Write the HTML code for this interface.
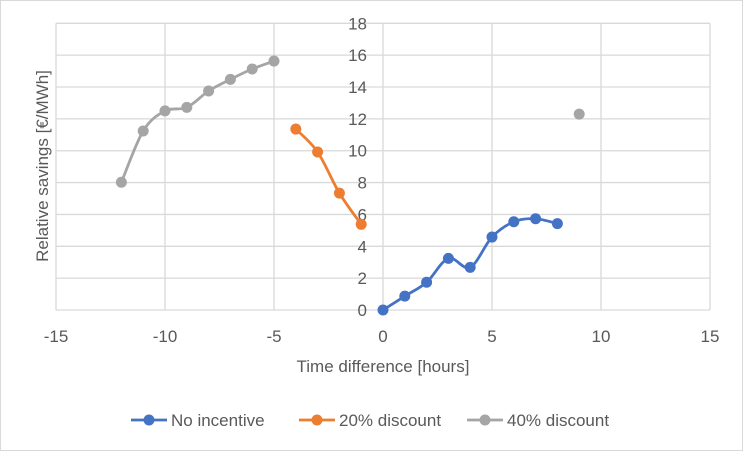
<!DOCTYPE html>
<html><head><meta charset="utf-8"><style>
body{margin:0;background:#fff;font-family:"Liberation Sans",sans-serif;}
svg{display:block}
</style></head><body>
<svg id="chart" width="743" height="451">
<rect x="0.5" y="0.5" width="742" height="450" fill="#fff" stroke="#d9d9d9"/>
<g id="grid"></g><g id="axes"></g><g id="series"></g>
<text x="383" y="372" text-anchor="middle" font-size="17" fill="#595959">Time difference [hours]</text>
<text transform="translate(48,166) rotate(-90)" text-anchor="middle" font-size="17" fill="#595959">Relative savings [€/MWh]</text>
<g id="legend"></g>
</svg>
<script>
const xTicks=[-15,-10,-5,0,5,10,15];
const yTicks=[0,2,4,6,8,10,12,14,16,18];
const seriesNames=["No incentive","20% discount","40% discount"];
const seriesColors=["#4472C4","#ED7D31","#A5A5A5"];
const blueX=[0,1,2,3,4,5,6,7,8];
const blueY=[0,0.87,1.74,3.24,2.68,4.58,5.54,5.73,5.42];
const orangeX=[-4,-3,-2,-1];
const orangeY=[11.36,9.92,7.34,5.38];
const grayX=[-12,-11,-10,-9,-8,-7,-6,-5];
const grayY=[8.02,11.24,12.5,12.72,13.75,14.48,15.13,15.63];
const grayLoneX=[9];
const grayLoneY=[12.3];
const NS="http://www.w3.org/2000/svg";
const X0=56,X1=710,Y0=310,Y1=23.3;
const sx=v=>X0+(v+15)/30*(X1-X0);
const sy=v=>Y0-v/18*(Y0-Y1);
function mk(t,a,p){const e=document.createElementNS(NS,t);for(const k in a)e.setAttribute(k,a[k]);p.appendChild(e);return e;}
const grid=document.getElementById('grid'),axes=document.getElementById('axes'),ser=document.getElementById('series'),leg=document.getElementById('legend');
yTicks.forEach(v=>{
 const l=mk('line',{x1:X0,x2:X1,y1:sy(v),y2:sy(v),stroke:'#d9d9d9','stroke-width':1.3},grid);
 
 
 const t=mk('text',{x:sx(0)-16,y:sy(v)+6,'text-anchor':'end','font-size':17,fill:'#595959'},axes);
 t.textContent=v;
 
 
});
xTicks.forEach(v=>{
 const l=mk('line',{x1:sx(v),x2:sx(v),y1:Y1,y2:Y0,stroke:'#d9d9d9','stroke-width':1.3},grid);
 
 
 const t=mk('text',{x:sx(v),y:Y0+32,'text-anchor':'middle','font-size':17,fill:'#595959'},axes);
 t.textContent=v;
 
 
});
function path(xs,ys){
 const p=xs.map((x,i)=>[sx(x),sy(ys[i])]);
 let d='M'+p[0][0]+','+p[0][1];
 for(let i=0;i<p.length-1;i++){
  const a=p[i-1]||p[i],b=p[i],c=p[i+1],e=p[i+2]||c;
  const c1=[b[0]+(c[0]-a[0])/6,b[1]+(c[1]-a[1])/6],c2=[c[0]-(e[0]-b[0])/6,c[1]-(e[1]-b[1])/6];
  d+=` C${c1[0]},${c1[1]} ${c2[0]},${c2[1]} ${c[0]},${c[1]}`;
 }
 return d;
}
function draw(xs,ys,col,name){
 if(xs.length>1){
  const l=mk('path',{d:path(xs,ys),fill:'none',stroke:col,'stroke-width':2.8},ser);
  
  
 }
 xs.forEach((x,i)=>{
  const c=mk('circle',{cx:sx(x),cy:sy(ys[i]),r:5.5,fill:col},ser);
  
  
 });
}
draw(grayX,grayY,seriesColors[2],'40-discount');
draw(grayLoneX,grayLoneY,seriesColors[2],'40-discount');
draw(orangeX,orangeY,seriesColors[1],'20-discount');
draw(blueX,blueY,seriesColors[0],'no-incentive');
const lx=[131,299,467];
seriesNames.forEach((n,i)=>{
 const g=mk('g',{},leg);
 
 
 mk('line',{x1:lx[i],x2:lx[i]+36,y1:420,y2:420,stroke:seriesColors[i],'stroke-width':2.8},g);
 mk('circle',{cx:lx[i]+18,cy:420,r:5.5,fill:seriesColors[i]},g);
 const t=mk('text',{x:lx[i]+40,y:426,'font-size':17,fill:'#595959'},g);
 t.textContent=n;
});
</script>
</body></html>
